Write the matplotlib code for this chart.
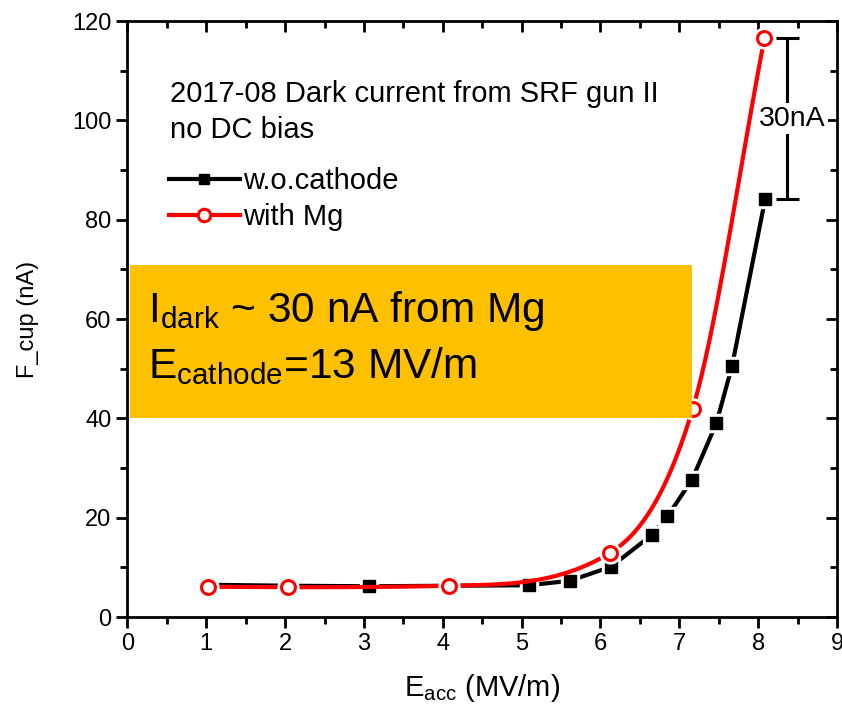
import numpy as np
import matplotlib
matplotlib.use("Agg")
import matplotlib.pyplot as plt
from matplotlib.patches import Rectangle

plt.rcParams["font.family"] = ["Liberation Sans", "DejaVu Sans"]
plt.rcParams["mathtext.fontset"] = "custom"
plt.rcParams["mathtext.rm"] = "Liberation Sans"
plt.rcParams["mathtext.it"] = "Liberation Sans"

# data
x_cathode = [1.02, 2.04, 3.07, 4.10, 5.09, 5.61, 6.13, 6.65, 6.85, 7.16, 7.47, 7.67, 8.09]
y_cathode = [6.5, 6.3, 6.2, 6.3, 6.4, 7.3, 10.1, 16.5, 20.3, 27.6, 39.0, 50.6, 84.2]

x_mg = [1.02, 2.04, 4.08, 6.12, 7.17, 8.08]
y_mg = [6.1, 6.0, 6.3, 12.9, 41.9, 116.5]

header = ["2017-08 Dark current from SRF gun II", "no DC bias"]
labels = ["w.o.cathode", "with Mg"]


def smooth(x, y, n=400):
    """Cardinal cubic through the points (red line), limited so it doesn't wiggle."""
    x = np.asarray(x, float)
    y = np.asarray(y, float)
    h = np.diff(x)
    d = np.diff(y) / h
    m = np.empty_like(y)
    m[1:-1] = (y[2:] - y[:-2]) / (x[2:] - x[:-2])
    m[1:-1][d[:-1] * d[1:] <= 0] = 0
    m[0] = d[0]
    m[-1] = d[-1]
    # Fritsch-Carlson style limiter
    for k in range(len(d)):
        if d[k] == 0:
            continue
        a, b = m[k] / d[k], m[k + 1] / d[k]
        r = a * a + b * b
        if r > 9:
            tau = 3 / np.sqrt(r)
            m[k] = tau * a * d[k]
            m[k + 1] = tau * b * d[k]
    xs = np.linspace(x[0], x[-1], n)
    idx = np.clip(np.searchsorted(x, xs) - 1, 0, len(h) - 1)
    t = (xs - x[idx]) / h[idx]
    h00 = 2 * t**3 - 3 * t**2 + 1
    h10 = t**3 - 2 * t**2 + t
    h01 = -2 * t**3 + 3 * t**2
    h11 = t**3 - t**2
    ys = h00 * y[idx] + h10 * h[idx] * m[idx] + h01 * y[idx + 1] + h11 * h[idx] * m[idx + 1]
    return xs, ys


fig = plt.figure(figsize=(8.42, 7.15), dpi=100)
ax = fig.add_axes([0.1514, 0.137, 0.8426, 0.8336])

# black series: straight segments, white halo gives the gap around markers
ax.plot(x_cathode, y_cathode, color="black", lw=3, zorder=2)
ax.plot(x_cathode, y_cathode, ls="none", marker="s", ms=12.5, mfc="white", mec="white", zorder=3)
ax.plot(x_cathode, y_cathode, ls="none", marker="s", ms=8.5, mfc="black", mec="black", zorder=4)

# red series: smooth curve
xs, ys = smooth(x_mg, y_mg)
ax.plot(xs, ys, color="red", lw=3, zorder=5)
ax.plot(x_mg, y_mg, ls="none", marker="o", ms=15, mfc="white", mec="white", zorder=6)
ax.plot(x_mg, y_mg, ls="none", marker="o", ms=10, mfc="white", mec="red", mew=2.2, zorder=7)

# legend
h1, = ax.plot([], [], color="black", lw=3, marker="s", ms=7)
h2, = ax.plot([], [], color="red", lw=3, marker="o", ms=9, mfc="white", mec="red", mew=2.2)
ax.legend([h1, h2], labels, loc="upper left", bbox_to_anchor=(0.058, 0.755),
          frameon=False, fontsize=21, handlelength=2.45, handletextpad=0.1,
          labelspacing=0.27, borderaxespad=0, borderpad=0)

ax.text(0.06, 0.877, header[0], transform=ax.transAxes, fontsize=21, va="center", ha="left")
ax.text(0.06, 0.817, header[1], transform=ax.transAxes, fontsize=21, va="center", ha="left")

# 30 nA bar between the two top points
xb = 8.37
top = max(y_mg)
bot = max(y_cathode)
ax.vlines(xb, bot, top, color="black", lw=2.2, zorder=3)
ax.hlines([bot, top], xb - 0.145, xb + 0.145, color="black", lw=2.2, zorder=3)
ax.text(xb + 0.06, (top + bot) / 2, "30nA", fontsize=20.5, ha="center", va="center",
        bbox=dict(facecolor="white", edgecolor="none", pad=2), zorder=4)

# orange note box
ax.add_patch(Rectangle((0.003, 0.334), 0.793, 0.257, transform=ax.transAxes,
                       facecolor="#FFC000", edgecolor="none", zorder=8, clip_on=False))
ax.text(0.029, 0.495, r"I$_{\rm dark}$ ~ 30 nA from Mg", transform=ax.transAxes,
        fontsize=30.5, va="baseline", ha="left", zorder=9)
ax.text(0.029, 0.401, r"E$_{\rm cathode}$=13 MV/m", transform=ax.transAxes,
        fontsize=30.5, va="baseline", ha="left", zorder=9)

ax.set_xlim(0, 9)
ax.set_ylim(0, 120)
ax.set_xticks(np.arange(0, 10, 1))
ax.set_xticks(np.arange(0.5, 9, 1), minor=True)
ax.set_yticks(np.arange(0, 121, 20))
ax.set_yticks(np.arange(10, 120, 20), minor=True)

for s in ax.spines.values():
    s.set_linewidth(2)
ax.tick_params(which="both", width=2, labelsize=17, top=True, right=True, direction="out")
ax.tick_params(which="major", length=8)
ax.tick_params(which="minor", length=5)

# top and right ticks point inward
for line in ax.xaxis.get_majorticklines()[1::2] + ax.xaxis.get_minorticklines()[1::2]:
    line.set_marker(3)
for line in ax.yaxis.get_majorticklines()[1::2] + ax.yaxis.get_minorticklines()[1::2]:
    line.set_marker(0)

ax.set_xlabel(r"E$_{\rm acc}$ (MV/m)", fontsize=21, labelpad=12)
ax.set_ylabel("F_cup (nA)", fontsize=17, labelpad=24)

fig.savefig("out.png", dpi=100)
